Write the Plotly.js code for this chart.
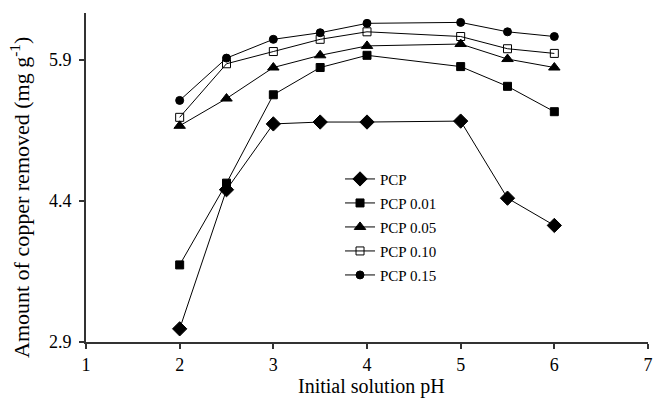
<!DOCTYPE html>
<html>
<head>
<meta charset="utf-8">
<script src="https://cdn.plot.ly/plotly-3.0.1.min.js"></script>
<style>html,body{margin:0;padding:0;background:#fff;}#chart{width:659px;height:399px;}</style>
</head>
<body>
<div id="chart"></div>
<script>
const pH = [2, 2.5, 3, 3.5, 4, 5, 5.5, 6];
const seriesNames = ["PCP", "PCP 0.01", "PCP 0.05", "PCP 0.10", "PCP 0.15"];
const pcp    = [3.04, 4.52, 5.22, 5.24, 5.24, 5.25, 4.43, 4.14];
const pcp001 = [3.72, 4.59, 5.53, 5.82, 5.95, 5.83, 5.62, 5.35];
const pcp005 = [5.20, 5.49, 5.82, 5.95, 6.05, 6.07, 5.91, 5.82];
const pcp010 = [5.29, 5.86, 5.99, 6.12, 6.20, 6.15, 6.02, 5.97];
const pcp015 = [5.47, 5.92, 6.12, 6.19, 6.29, 6.30, 6.20, 6.15];
const xTicks = [1, 2, 3, 4, 5, 6, 7];
const yTicks = [2.9, 4.4, 5.9];
const xTitle = "Initial solution pH";
const yTitle = "Amount of copper removed (mg g<sup>-1</sup>)";

const allY = [pcp, pcp001, pcp005, pcp010, pcp015];
const symbols = ["diamond", "square", "triangle-up", "square-open", "circle"];
const sizes = [11, 8, 10, 8, 8];

const traces = allY.map((ys, i) => ({
  x: pH, y: ys, name: seriesNames[i], type: "scatter", mode: "lines+markers",
  legendgroup: "g" + i,
  line: {color: "#000", width: 1},
  marker: {symbol: symbols[i], size: sizes[i], color: "#000", line: {color: "#000", width: 1}}
}));

const font = {family: "Liberation Serif, Times New Roman, serif", color: "#000"};
const W = 659, H = 399, M = {l: 86, r: 11, t: 13, b: 57};
const pw = W - M.l - M.r, ph = H - M.t - M.b;
const layout = {
  width: W, height: H,
  margin: M,
  paper_bgcolor: "#fff", plot_bgcolor: "#fff",
  font: Object.assign({size: 18}, font),
  showlegend: true,
  legend: {x: 0.452, y: 0.545, xanchor: "left", yanchor: "top", font: Object.assign({size: 15}, font), bgcolor: "rgba(0,0,0,0)", tracegroupgap: 1.5},
  xaxis: {
    range: [1, 7], tickvals: xTicks, ticktext: xTicks.map(String),
    showgrid: false, zeroline: false, showline: true, linecolor: "#333", linewidth: 2,
    ticks: "outside", ticklen: 5, tickwidth: 2, tickcolor: "#333",
    tickfont: Object.assign({size: 18}, font)
  },
  yaxis: {
    range: [2.9, 6.4], tickvals: yTicks, ticktext: yTicks.map(v => v.toFixed(1)),
    showgrid: false, zeroline: false, showline: true, linecolor: "#333", linewidth: 2,
    ticks: "outside", ticklen: 5, tickwidth: 2, tickcolor: "#333",
    ticklabelstandoff: 4,
    tickfont: Object.assign({size: 18}, font)
  },
  annotations: [
    {text: xTitle, xref: "paper", yref: "paper", x: (371 - M.l) / pw, y: -(H - M.t - ph) / ph,
     xanchor: "center", yanchor: "bottom", borderpad: 0, showarrow: false, font: Object.assign({size: 20}, font)},
    {text: yTitle, xref: "paper", yref: "paper", x: (20 - M.l) / pw, y: 1 - (198 - M.t) / ph,
     xanchor: "center", yanchor: "middle", textangle: -90, showarrow: false, font: Object.assign({size: 22}, font)}
  ]
};
Plotly.newPlot("chart", traces, layout, {displayModeBar: false, staticPlot: true});
</script>
</body>
</html>
